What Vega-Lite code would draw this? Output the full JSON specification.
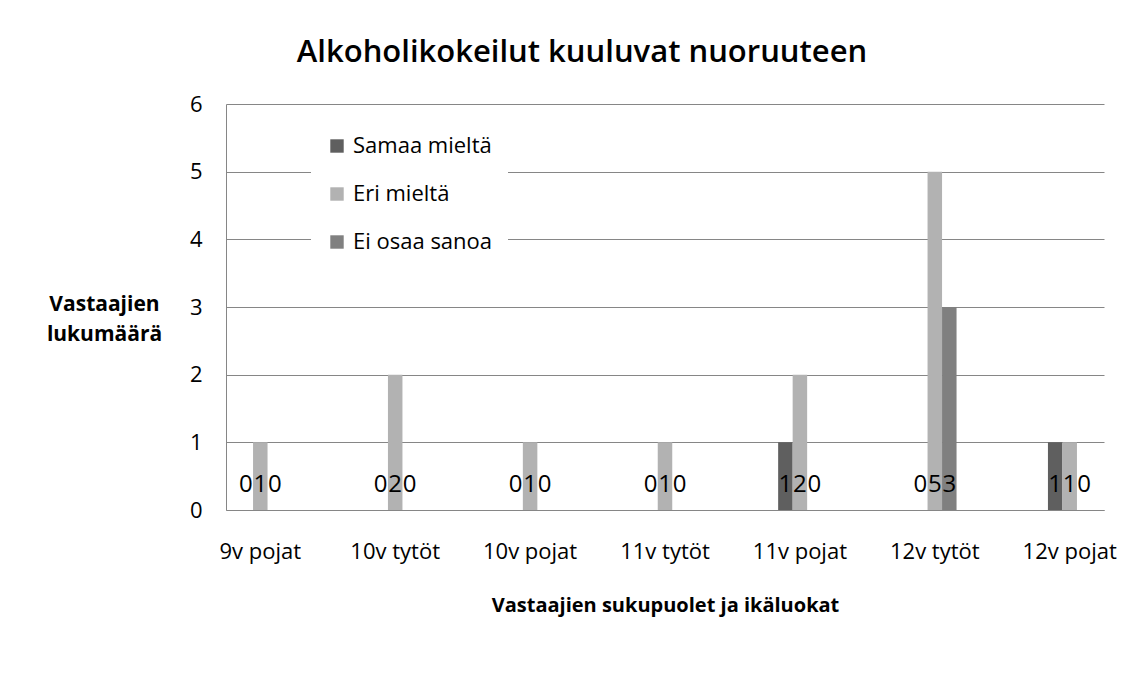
{
  "$schema": "https://vega.github.io/schema/vega-lite/v6.json",
  "autosize": "none",
  "width": 878,
  "height": 406,
  "padding": {"left": 226, "top": 104, "right": 44, "bottom": 168},
  "background": "white",
  "title": {
    "text": "Alkoholikokeilut kuuluvat nuoruuteen",
    "font": "Open Sans",
    "fontSize": 31,
    "fontWeight": 600,
    "color": "#000000",
    "anchor": "middle",
    "offset": 24,
    "dx": -83
  },
  "data": {
    "values": [
      {"ryhma": "9v pojat", "vastaus": "Samaa mieltä", "lkm": 0},
      {"ryhma": "9v pojat", "vastaus": "Eri mieltä", "lkm": 1},
      {"ryhma": "9v pojat", "vastaus": "Ei osaa sanoa", "lkm": 0},
      {"ryhma": "10v tytöt", "vastaus": "Samaa mieltä", "lkm": 0},
      {"ryhma": "10v tytöt", "vastaus": "Eri mieltä", "lkm": 2},
      {"ryhma": "10v tytöt", "vastaus": "Ei osaa sanoa", "lkm": 0},
      {"ryhma": "10v pojat", "vastaus": "Samaa mieltä", "lkm": 0},
      {"ryhma": "10v pojat", "vastaus": "Eri mieltä", "lkm": 1},
      {"ryhma": "10v pojat", "vastaus": "Ei osaa sanoa", "lkm": 0},
      {"ryhma": "11v tytöt", "vastaus": "Samaa mieltä", "lkm": 0},
      {"ryhma": "11v tytöt", "vastaus": "Eri mieltä", "lkm": 1},
      {"ryhma": "11v tytöt", "vastaus": "Ei osaa sanoa", "lkm": 0},
      {"ryhma": "11v pojat", "vastaus": "Samaa mieltä", "lkm": 1},
      {"ryhma": "11v pojat", "vastaus": "Eri mieltä", "lkm": 2},
      {"ryhma": "11v pojat", "vastaus": "Ei osaa sanoa", "lkm": 0},
      {"ryhma": "12v tytöt", "vastaus": "Samaa mieltä", "lkm": 0},
      {"ryhma": "12v tytöt", "vastaus": "Eri mieltä", "lkm": 5},
      {"ryhma": "12v tytöt", "vastaus": "Ei osaa sanoa", "lkm": 3},
      {"ryhma": "12v pojat", "vastaus": "Samaa mieltä", "lkm": 1},
      {"ryhma": "12v pojat", "vastaus": "Eri mieltä", "lkm": 1},
      {"ryhma": "12v pojat", "vastaus": "Ei osaa sanoa", "lkm": 0}
    ]
  },
  "encoding": {
    "x": {
      "field": "ryhma",
      "type": "nominal",
      "sort": ["9v pojat", "10v tytöt", "10v pojat", "11v tytöt", "11v pojat", "12v tytöt", "12v pojat"],
      "scale": {"paddingInner": 0.6775, "paddingOuter": 0.093},
      "axis": {
        "title": "Vastaajien sukupuolet ja ikäluokat",
        "labelAngle": 0,
        "labelFont": "Open Sans",
        "labelFontSize": 22,
        "labelColor": "#000000",
        "labelPadding": 31,
        "ticks": false,
        "domainColor": "#868686",
        "titleFont": "Open Sans",
        "titleFontSize": 20,
        "titleFontWeight": "bold",
        "titleColor": "#000000",
        "titlePadding": 33
      }
    },
    "xOffset": {
      "field": "vastaus",
      "type": "nominal",
      "sort": ["Samaa mieltä", "Eri mieltä", "Ei osaa sanoa"]
    }
  },
  "layer": [
    {
      "mark": {"type": "bar"},
      "encoding": {
        "y": {
          "field": "lkm",
          "type": "quantitative",
          "scale": {"domain": [0, 6], "nice": false},
          "axis": {
            "values": [0, 1, 2, 3, 4, 5, 6],
            "format": "d",
            "title": ["Vastaajien", "lukumäärä"],
            "titleAngle": 0,
            "titleAlign": "center",
            "titleBaseline": "middle",
            "titleX": -122,
            "titleY": 200,
            "titleFont": "Open Sans",
            "titleFontSize": 21,
            "titleFontWeight": "bold",
            "titleColor": "#000000",
            "titleLineHeight": 30,
            "labelFont": "Open Sans",
            "labelFontSize": 22,
            "labelColor": "#000000",
            "labelPadding": 24,
            "ticks": false,
            "grid": true,
            "gridColor": "#868686",
            "gridWidth": 1,
            "domainColor": "#868686"
          }
        },
        "color": {
          "field": "vastaus",
          "type": "nominal",
          "sort": ["Samaa mieltä", "Eri mieltä", "Ei osaa sanoa"],
          "scale": {
            "domain": ["Samaa mieltä", "Eri mieltä", "Ei osaa sanoa"],
            "range": ["#5f5f5f", "#b2b2b2", "#808080"]
          },
          "legend": {
            "title": null,
            "orient": "none",
            "legendX": 85,
            "legendY": 16,
            "fillColor": "#ffffff",
            "padding": 15,
            "symbolType": "square",
            "symbolSize": 180,
            "symbolStrokeWidth": 0,
            "labelFont": "Open Sans",
            "labelFontSize": 22,
            "labelColor": "#000000",
            "labelOffset": 5,
            "rowPadding": 26
          }
        }
      }
    },
    {
      "mark": {
        "type": "text",
        "font": "Open Sans",
        "fontSize": 24,
        "color": "#000000",
        "baseline": "alphabetic",
        "dy": -18
      },
      "encoding": {
        "y": {"datum": 0, "type": "quantitative"},
        "text": {"field": "lkm", "type": "quantitative"}
      }
    }
  ],
  "config": {
    "view": {"stroke": null}
  }
}
